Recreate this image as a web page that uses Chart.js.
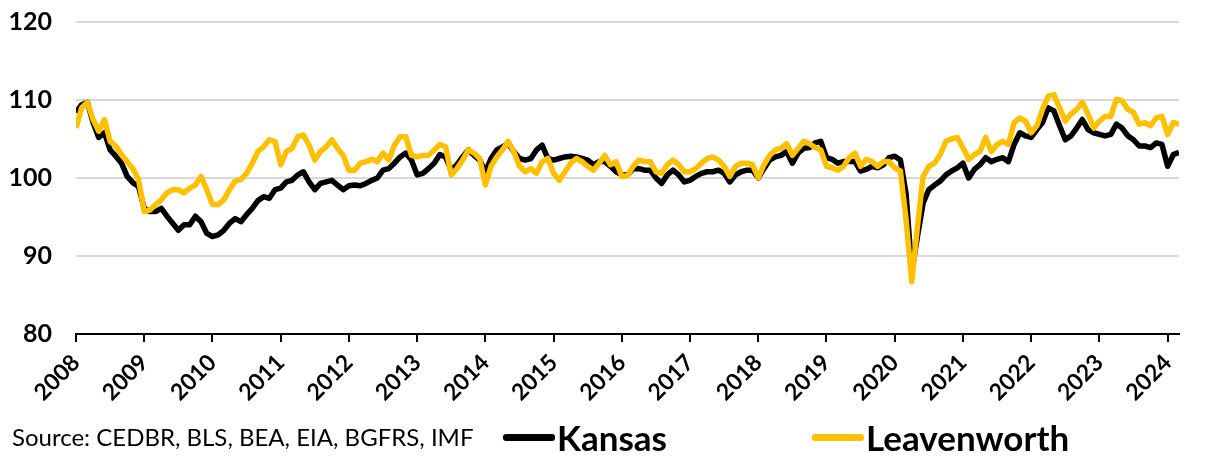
<!DOCTYPE html>
<html>
<head>
<meta charset="utf-8">
<script src="https://cdn.jsdelivr.net/npm/chart.js@4"></script>
<style>
  body { margin: 0; background: #fff; }
  #wrap { position: relative; width: 1211px; height: 459px; font-family: Lato, "Noto Sans", sans-serif; }
  #source { position: absolute; left: 12px; top: 422px; font-size: 24px; color: #000; white-space: nowrap; }
  .leg { position: absolute; top: 416px; font-size: 35px; font-weight: bold; color: #000; white-space: nowrap; display: flex; align-items: center; }
  .leg span.sw { display: inline-block; width: 52px; height: 7px; border-radius: 3px; margin-right: 2px; }
</style>
</head>
<body>
<div id="wrap">
  <canvas id="chart" width="1211" height="459"></canvas>
  <div id="source">Source: CEDBR, BLS, BEA, EIA, BGFRS, IMF</div>
  <div class="leg" style="left:503px"><span class="sw" style="background:#000"></span>Kansas</div>
  <div class="leg" style="left:812px"><span class="sw" style="background:#FFC000"></span>Leavenworth</div>
</div>
<script>
// monthly index, Jan 2008 - Mar 2024
const yearLabels = ["2008", "2009", "2010", "2011", "2012", "2013", "2014", "2015", "2016",
    "2017", "2018", "2019", "2020", "2021", "2022", "2023", "2024"];

const kansas = [
    108.4, 109.4, 109.7, 107.1, 105.2, 105.8, 103.6, 102.8, 101.9, 100.2, 99.4, 98.9,
    96.1, 95.7, 95.7, 96.1, 95.1, 94.2, 93.3, 94.0, 94.0, 95.1, 94.4, 92.9,
    92.5, 92.7, 93.3, 94.2, 94.8, 94.4, 95.3, 96.1, 97.1, 97.6, 97.4, 98.5,
    98.7, 99.5, 99.7, 100.4, 100.8, 99.5, 98.5, 99.3, 99.5, 99.7, 99.1, 98.5,
    99.0, 99.1, 99.0, 99.3, 99.7, 100.0, 101.0, 101.2, 101.9, 102.7, 103.2, 102.3,
    100.4, 100.6, 101.2, 101.9, 103.0, 102.7, 101.0, 101.7, 102.7, 103.6, 102.9, 102.3,
    100.8, 102.5, 103.6, 104.0, 104.4, 103.4, 102.5, 102.3, 102.5, 103.6, 104.2, 102.5,
    102.3, 102.5, 102.7, 102.8, 102.7, 102.5, 102.3, 101.7, 102.1, 102.1, 101.5, 100.8,
    100.4, 100.4, 101.2, 101.2, 101.0, 101.0, 100.0, 99.3, 100.4, 101.0, 100.4, 99.5,
    99.7, 100.2, 100.6, 100.8, 100.8, 101.0, 100.6, 99.5, 100.4, 100.8, 101.0, 101.0,
    100.0, 101.2, 102.3, 102.7, 102.9, 103.4, 101.9, 103.2, 103.8, 103.9, 104.5, 104.7,
    102.6, 102.4, 101.9, 102.1, 102.1, 102.1, 100.9, 101.1, 101.5, 101.3, 101.7, 102.6,
    102.8, 102.3, 98.0, 88.0, 92.5, 96.8, 98.5, 99.1, 99.6, 100.4, 100.9, 101.3,
    101.9, 100.0, 101.1, 101.7, 102.6, 102.1, 102.4, 102.6, 102.1, 104.3, 105.8, 105.4,
    105.2, 106.2, 107.1, 109.0, 108.6, 106.7, 104.9, 105.4, 106.4, 107.5, 106.2, 105.8,
    105.6, 105.4, 105.6, 106.9, 106.4, 105.4, 104.9, 104.1, 104.1, 103.9, 104.5, 104.3,
    101.5, 103.0, 103.3
];

const leavenworth = [
    106.4, 109.0, 109.7, 107.5, 106.0, 107.5, 104.7, 104.1, 103.0, 102.1, 101.2, 99.8,
    95.7, 95.9, 96.6, 97.2, 98.1, 98.5, 98.5, 98.1, 98.7, 99.1, 100.2, 98.5,
    96.6, 96.6, 97.2, 98.5, 99.6, 99.8, 100.6, 101.9, 103.4, 104.0, 104.9, 104.7,
    101.7, 103.4, 103.8, 105.3, 105.5, 104.2, 102.3, 103.4, 104.0, 104.9, 103.8, 102.9,
    101.0, 101.0, 101.9, 102.1, 102.4, 102.1, 103.2, 102.3, 104.2, 105.3, 105.3, 102.9,
    102.7, 102.9, 102.9, 103.6, 104.3, 104.0, 100.4, 101.2, 102.3, 103.6, 103.2, 102.5,
    99.1, 101.5, 102.7, 103.6, 104.7, 103.4, 101.5, 100.8, 101.2, 100.6, 102.1, 102.5,
    100.6, 99.7, 100.8, 101.9, 102.5, 102.1, 101.5, 101.0, 101.9, 102.9, 101.7, 102.1,
    100.2, 100.3, 101.5, 102.3, 102.1, 102.1, 100.8, 100.6, 101.7, 102.3, 101.7, 100.8,
    100.8, 101.2, 101.9, 102.5, 102.7, 102.3, 101.5, 100.2, 101.5, 101.9, 101.9, 101.7,
    100.0, 101.7, 102.9, 103.6, 103.8, 104.4, 102.9, 103.8, 104.7, 104.4, 103.9, 103.6,
    101.5, 101.3, 101.0, 101.5, 102.6, 103.2, 101.5, 102.4, 102.1, 101.5, 102.1, 102.1,
    101.3, 100.9, 94.6, 86.7, 93.8, 100.2, 101.5, 101.9, 103.0, 104.7, 105.0, 105.2,
    103.9, 102.4, 103.0, 103.4, 105.2, 103.4, 104.3, 104.7, 104.3, 107.1, 107.7, 107.3,
    105.8, 106.7, 108.8, 110.5, 110.7, 109.0, 107.3, 108.2, 108.8, 109.7, 108.2, 106.4,
    107.3, 107.9, 107.9, 110.1, 109.9, 108.8, 108.4, 106.9, 107.1, 106.7, 107.7, 107.9,
    105.6, 107.1, 106.9
];

const toPoints = (arr) => arr.map((v, i) => ({ x: i, y: v }));

const ctx = document.getElementById("chart").getContext("2d");
new Chart(ctx, {
    type: "line",
    data: {
        datasets: [
            {
                label: "Kansas",
                data: toPoints(kansas),
                borderColor: "#000000",
                borderWidth: 5.5,
                pointRadius: 0,
                tension: 0,
                borderJoinStyle: "round",
                order: 2,
            },
            {
                label: "Leavenworth",
                data: toPoints(leavenworth),
                borderColor: "#FFC000",
                borderWidth: 5.5,
                pointRadius: 0,
                tension: 0,
                borderJoinStyle: "round",
                order: 1,
            },
        ],
    },
    options: {
        responsive: false,
        animation: false,
        layout: { padding: { top: 22, right: 32, left: 0, bottom: 0 } },
        plugins: { legend: { display: false }, tooltip: { enabled: false } },
        scales: {
            x: {
                type: "linear",
                min: 0,
                max: kansas.length - 1,
                afterBuildTicks: (scale) => {
                    scale.ticks = yearLabels.map((_, i) => ({ value: i * 12 }));
                },
                afterFit: (scale) => { scale.height = 125; },
                ticks: {
                    autoSkip: false,
                    maxRotation: 45,
                    minRotation: 45,
                    padding: 7,
                    color: "#000",
                    font: { family: "Lato", size: 23, weight: "bold" },
                    callback: (val) => yearLabels[Math.round(val / 12)],
                },
                grid: {
                    display: true,
                    drawOnChartArea: false,
                    drawTicks: true,
                    tickLength: 8,
                    color: "#000",
                    lineWidth: 2,
                },
                border: { display: true, color: "#000", width: 2 },
            },
            y: {
                min: 80,
                max: 120,
                afterFit: (scale) => {
                    scale.width = 76;
                    scale.paddingTop = 0;
                    scale.paddingBottom = 0;
                },
                ticks: { stepSize: 10, padding: 24, color: "#000", font: { family: "Lato", size: 25, weight: "bold" } },
                grid: { color: "#d9d9d9", lineWidth: 2, drawTicks: false },
                border: { display: false },
            },
        },
    },
});
</script>
</body>
</html>
